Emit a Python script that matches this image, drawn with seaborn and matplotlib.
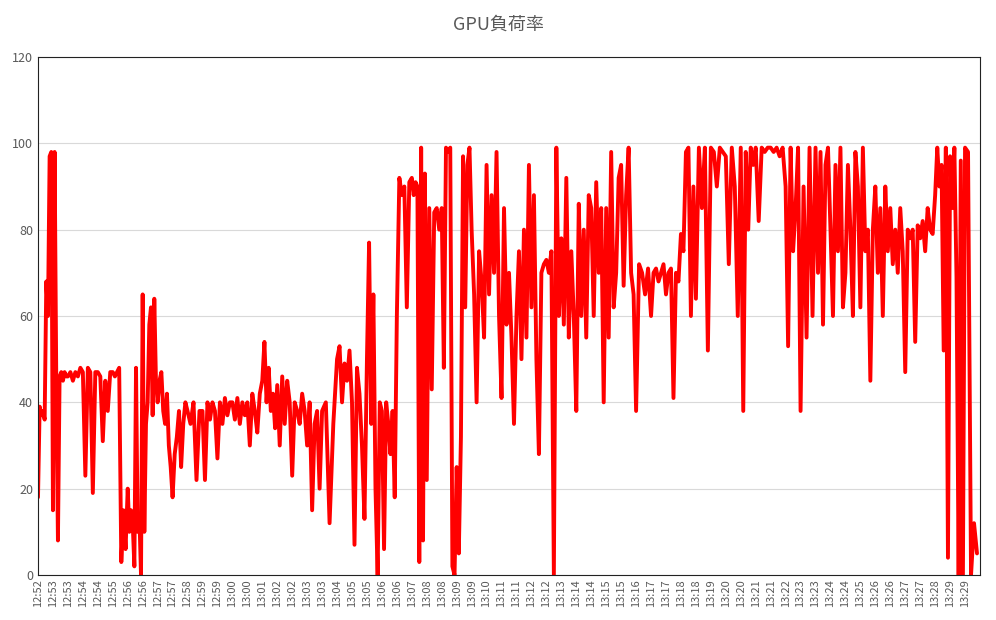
import matplotlib
matplotlib.use("Agg")
import matplotlib.pyplot as plt
import seaborn as sns
import pandas as pd
import numpy as np

sns.set_style("white")
plt.rcParams['font.family'] = ['Noto Sans CJK JP', 'DejaVu Sans']

tick_labels = ["12:52","12:53","12:53","12:54","12:54","12:55","12:56","12:56","12:57","12:57",
 "12:58","12:59","12:59","13:00","13:00","13:01","13:02","13:02","13:03","13:03",
 "13:04","13:05","13:05","13:06","13:06","13:07","13:08","13:08","13:09","13:09",
 "13:10","13:11","13:11","13:12","13:12","13:13","13:14","13:14","13:15","13:15",
 "13:16","13:17","13:17","13:18","13:18","13:19","13:20","13:20","13:21","13:21",
 "13:22","13:23","13:23","13:24","13:24","13:25","13:26","13:26","13:27","13:27",
 "13:28","13:29","13:29"]

# GPU load samples grouped by tick interval
load_groups = [
 [18,39,37,38,36,68,60,97,98],
 [15,98,45,8,46,47,45,47,46],
 [46,47,45,47,46,48],
 [47,23,48,47,19,47],
 [47,46,31,45,38,47],
 [47,46,47,48,3,15,6],
 [20,10,15,12,2,48,10,14,0],
 [65,10,35,40,58,62,37,64,45],
 [40,45,47,38,35,42,30,25],
 [18,28,32,38,25,35,40],
 [38,35,40,22,38],
 [38,22,40,36,40,38],
 [27,40,35,41,37,40],
 [40,36,41,35,40,37],
 [40,30,42,38,33,42],
 [45,54,40,48,38,42,34],
 [44,30,46,35,45,40],
 [23,40,38,35,42,38],
 [30,40,15,35,38,20],
 [38,40,12,35],
 [50,53,40,49,45,52],
 [40,7,48,42,30,13],
 [50,77,35,65,20,0,40],
 [38,6,40,35,28,38,18],
 [60,92,88,90,62,91],
 [92,88,91,90,3,99,8,93],
 [22,85,43,84,85,80],
 [85,48,99,98,99,2,0],
 [25,5,32,97,62,95,99],
 [80,65,40,75,68,55],
 [95,65,88,70,98,60],
 [41,85,58,70,55,35],
 [60,75,50,80,55,95],
 [62,88,50,28,70,72],
 [73,70,75,0,99,60],
 [78,58,92,55,75,60],
 [38,86,60,80,55,88],
 [85,60,91,70,85,40],
 [85,55,98,62,70,92],
 [95,67,88,99,70,65],
 [38,72,70,65,71],
 [60,70,71,68,70,72],
 [65,70,71,41,70,68],
 [79,75,98,99,60,90],
 [64,99,85,99,52],
 [99,98,90,99,98],
 [97,72,99,90,60],
 [99,38,98,80,99,95],
 [99,82,99,98,99],
 [99,98,99,97,99],
 [90,53,99,75,85,99],
 [38,90,55,99,60],
 [99,70,98,58,95,99],
 [80,60,95,75,99,62],
 [70,95,80,60,98,90],
 [62,99,75,80,45,80],
 [90,70,85,60,90,75],
 [85,72,80,70,85,75],
 [47,80,78,80,54,81],
 [78,82,75,85,80,79],
 [88,99,90,95,52,99,4],
 [97,85,99,69,0,96,0],
 [99,98,0,12,5],
]

xs, ys = [], []
for i, g in enumerate(load_groups):
    n = len(g)
    for j, v in enumerate(g):
        xs.append(i + j / n)
        ys.append(v)
df = pd.DataFrame({"t": xs, "load": ys})

fig = plt.figure(figsize=(9.96, 6.2), dpi=100)
ax = fig.add_axes([38/996, 45/620, 942/996, (575-57)/620])
sns.lineplot(data=df, x="t", y="load", ax=ax, color="#ff0000", linewidth=2.8)
ax.set_xlim(0, len(load_groups))
ax.set_ylim(0, 120)
ax.set_yticks(range(0, 121, 20))
ax.set_xticks(np.arange(len(tick_labels)))
ax.set_xticklabels(tick_labels, rotation=90, fontsize=8, color="#595959")
ax.tick_params(axis="y", labelsize=9, labelcolor="#595959", length=0)
ax.tick_params(axis="x", length=0, pad=3)
ax.yaxis.grid(True, color="#d9d9d9", linewidth=0.8)
ax.set_axisbelow(True)
for s in ax.spines.values():
    s.set_color("#222222")
    s.set_linewidth(0.8)
ax.set_xlabel("")
ax.set_ylabel("")
fig.suptitle("GPU負荷率", y=0.975, fontsize=13, color="#595959")
fig.savefig("out.png", dpi=100)
